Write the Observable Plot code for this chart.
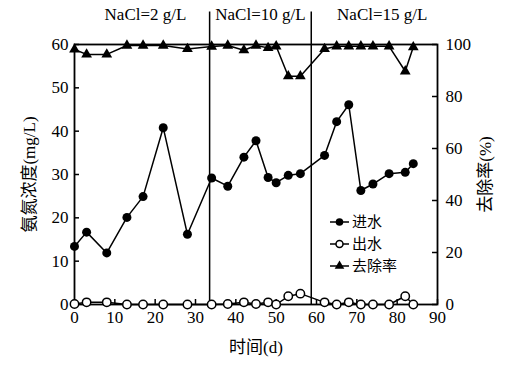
<!DOCTYPE html>
<html>
<head>
<meta charset="utf-8">
<script src="https://cdn.jsdelivr.net/npm/d3@7"></script>
<script src="https://cdn.jsdelivr.net/npm/@observablehq/plot@0.6"></script>
<style>
  body { margin: 0; background: white; }
  #chart svg text { font-family: 'Liberation Serif', 'Noto Sans CJK SC', serif !important; font-variant: normal !important; }
  #chart svg g.legend text { font-family: 'Noto Sans CJK SC', sans-serif !important; }
</style>
</head>
<body>
<div id="chart"></div>
<script>
// ---- data ----
const days = [0, 3, 8, 13, 17, 22, 28, 34, 38, 42, 45, 48, 50, 53, 56, 62, 65, 68, 71, 74, 78, 82, 84];
const influent = [13.4, 16.7, 11.9, 20.1, 24.9, 40.8, 16.2, 29.2, 27.3, 34.0, 37.8, 29.3, 28.1, 29.8, 30.2, 34.4, 42.2, 46.1, 26.3, 27.8, 30.2, 30.5, 32.5];
const effluent = [0.1, 0.5, 0.5, 0.0, 0.0, 0.0, 0.0, 0.0, 0.1, 0.5, 0.1, 0.5, 0.0, 1.9, 2.5, 0.5, 0.0, 0.5, 0.0, 0.0, 0.0, 1.9, 0.0];
const removalRate = [98.1, 96.2, 96.2, 99.6, 99.6, 99.6, 98.3, 99.2, 99.6, 97.8, 99.6, 98.7, 99.3, 87.8, 87.8, 98.3, 99.3, 99.3, 99.3, 99.3, 99.3, 89.7, 99.0];

const phaseBoundaries = [33.5, 58.7];
const phaseLabels = ["NaCl=2 g/L", "NaCl=10 g/L", "NaCl=15 g/L"];
const phaseLabelX = [17.6, 46.1, 76.3];

const xTicks = [0, 10, 20, 30, 40, 50, 60, 70, 80, 90];
const yTicks = [0, 10, 20, 30, 40, 50, 60];
const rateTicks = [0, 20, 40, 60, 80, 100];

const seriesNames = ["进水", "出水", "去除率"];

// ---- build ----
const W = 510, H = 366;
const mL = 74, mR = 73, mT = 44, mB = 62;
const plotW = W - mL - mR, plotH = H - mT - mB;
const yMax = 60;
const rateScale = yMax / 100; // map % onto the left scale

const rows = days.map((d, i) => ({
  day: d, inf: influent[i], eff: effluent[i], rate: removalRate[i] * rateScale
}));
const phases = phaseLabels.map((t, i) => ({text: t, x: phaseLabelX[i]}));

const serif = "'Liberation Serif', 'Noto Sans CJK SC', serif";

const chart = Plot.plot({
  width: W, height: H,
  marginLeft: mL, marginRight: mR, marginTop: mT, marginBottom: mB,
  style: {fontFamily: serif, fontSize: "16px", background: "white", color: "black", overflow: "visible"},
  x: {domain: [0, 90]},
  y: {domain: [0, yMax]},
  marks: [
    Plot.axisX(xTicks, {tickSize: 0, tickPadding: 6, fontSize: 17, label: "时间(d)", labelAnchor: "center", labelOffset: 48, labelArrow: "none"}),
    Plot.axisY(yTicks, {anchor: "left", tickSize: 0, tickPadding: 6, fontSize: 17, label: "氨氮浓度(mg/L)", labelAnchor: "center", labelOffset: 52, labelArrow: "none"}),
    Plot.axisY(rateTicks.map(v => v * rateScale), {anchor: "right", tickSize: 0, tickPadding: 8, fontSize: 17, tickFormat: v => String(Math.round(v / rateScale)), label: "去除率(%)", labelAnchor: "center", labelOffset: 53, labelArrow: "none"}),
    // inward ticks
    Plot.tickY(yTicks, {y: d => d, insetRight: plotW - 5, stroke: "black", strokeWidth: 1.5}),
    Plot.tickY(rateTicks.map(v => v * rateScale), {y: d => d, insetLeft: plotW - 5, stroke: "black", strokeWidth: 1.5}),
    Plot.tickX(xTicks, {x: d => d, insetTop: plotH - 5, stroke: "black", strokeWidth: 1.5}),
    Plot.frame({stroke: "black", strokeWidth: 1.8}),
    // phase boundaries
    Plot.ruleX(phaseBoundaries, {x: d => d, y1: 0, y2: 67.5, stroke: "black", strokeWidth: 1.5}),
    Plot.text(phases, {x: "x", y: 67, text: "text", fontSize: 17, fill: "black"}),
    // removal rate
    Plot.line(rows, {x: "day", y: "rate", stroke: "black", strokeWidth: 1.5}),
    Plot.dot(rows, {x: "day", y: "rate", symbol: "triangle", r: 4, fill: "black", stroke: "none"}),
    // influent
    Plot.line(rows, {x: "day", y: "inf", stroke: "black", strokeWidth: 1.5}),
    Plot.dot(rows, {x: "day", y: "inf", r: 4.5, fill: "black", stroke: "none"}),
    // effluent
    Plot.line(rows, {x: "day", y: "eff", stroke: "black", strokeWidth: 1.5}),
    Plot.dot(rows, {x: "day", y: "eff", r: 4.2, fill: "white", stroke: "black", strokeWidth: 1.5})
  ]
});

document.getElementById("chart").appendChild(chart);

// ---- legend (inside plot) ----
const svg = d3.select(chart);
const lg = svg.append("g").attr("class", "legend").attr("transform", "translate(330,222)").attr("text-anchor", "start");
const rowGap = 22;
seriesNames.forEach((name, i) => {
  const g = lg.append("g").attr("transform", `translate(0,${i * rowGap})`);
  g.append("line").attr("x1", 0).attr("x2", 19).attr("y1", 0).attr("y2", 0)
    .attr("stroke", "black").attr("stroke-width", 1.5);
  if (i === 0) {
    g.append("circle").attr("cx", 9.5).attr("cy", 0).attr("r", 3.8).attr("fill", "black");
  } else if (i === 1) {
    g.append("circle").attr("cx", 9.5).attr("cy", 0).attr("r", 3.5).attr("fill", "white")
      .attr("stroke", "black").attr("stroke-width", 1.5);
  } else {
    g.append("path").attr("d", d3.symbol(d3.symbolTriangle, 40)()).attr("transform", "translate(9.5,0)").attr("fill", "black");
  }
  g.append("text").attr("x", 22).attr("y", 0).attr("dy", "0.35em")
    .attr("text-anchor", "start")
    .attr("font-size", 15)
    .attr("fill", "black").text(name);
});
</script>
</body>
</html>
